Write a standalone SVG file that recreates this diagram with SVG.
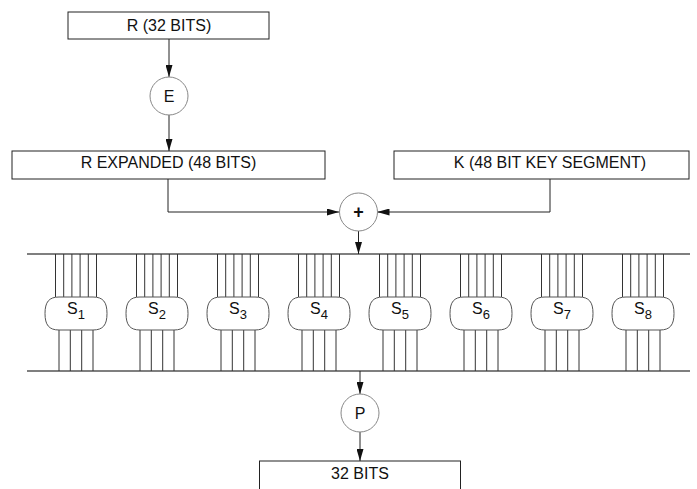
<svg xmlns="http://www.w3.org/2000/svg" xmlns:xlink="http://www.w3.org/1999/xlink" width="697" height="489" viewBox="0 0 697 489">
<style>
  .box { fill: #fff; stroke: #222; stroke-width: 1; }
  .circ { fill: #fff; stroke: #888; stroke-width: 1; }
  .sbox { fill: #fff; stroke: #555; stroke-width: 1; }
  .lbl { font-family: "Liberation Sans", Arial, sans-serif; font-size: 16px; fill: #111; text-anchor: middle; }
  .conn { fill: none; stroke: #222; stroke-width: 1; }
  .bus { stroke: #555; stroke-width: 1.3; }
  .wire { stroke: #333; stroke-width: 1; }
</style>
<defs>
  <marker id="arr" markerUnits="userSpaceOnUse" markerWidth="12" markerHeight="7" refX="12" refY="3.5" orient="auto">
    <path d="M0,0 L12,3.5 L0,7 Z" fill="#111"/>
  </marker>
  <path id="sshape" d="M -17,0 H 17 C 27,0 31,5 31,16.5 C 31,28 27,33 17,33 H -17 C -27,33 -31,28 -31,16.5 C -31,5 -27,0 -17,0 Z"/>
  <g id="wires">
    <path d="M -20.5,254 V 297 M -12.3,254 V 297 M -4.1,254 V 297 M 4.1,254 V 297 M 12.3,254 V 297 M 20.5,254 V 297 M -17,330 V 371 M -5.7,330 V 371 M 5.7,330 V 371 M 17,330 V 371"/>
  </g>
</defs>

<g id="connectors">
  <line class="bus" x1="27" y1="254" x2="690" y2="254"/>
  <line class="bus" x1="27" y1="371" x2="690" y2="371"/>
  <g class="wire">
    <use xlink:href="#wires" x="76"/>
    <use xlink:href="#wires" x="157"/>
    <use xlink:href="#wires" x="238"/>
    <use xlink:href="#wires" x="319"/>
    <use xlink:href="#wires" x="400"/>
    <use xlink:href="#wires" x="481"/>
    <use xlink:href="#wires" x="562"/>
    <use xlink:href="#wires" x="643"/>
  </g>
  <path class="conn" d="M169,39 V77" marker-end="url(#arr)"/>
  <path class="conn" d="M169,115 V151" marker-end="url(#arr)"/>
  <path class="conn" d="M168,179 V212 H339" marker-end="url(#arr)"/>
  <path class="conn" d="M550,179 V212 H377.5" marker-end="url(#arr)"/>
  <path class="conn" d="M358.5,231 V254" marker-end="url(#arr)"/>
  <path class="conn" d="M360,371 V394" marker-end="url(#arr)"/>
  <path class="conn" d="M360,432 V461" marker-end="url(#arr)"/>
</g>

<g id="r32">
  <rect class="box" x="68" y="12" width="201" height="27"/>
  <text class="lbl" x="169" y="31">R (32 BITS)</text>
</g>
<g id="E">
  <circle class="circ" cx="169" cy="96" r="19"/>
  <text class="lbl" x="169" y="102">E</text>
</g>
<g id="rexp">
  <rect class="box" x="12" y="151" width="313" height="28"/>
  <text class="lbl" x="168.5" y="167.5">R EXPANDED (48 BITS)</text>
</g>
<g id="k">
  <rect class="box" x="394" y="151" width="295" height="28"/>
  <text class="lbl" x="550" y="167.5">K (48 BIT KEY SEGMENT)</text>
</g>
<g id="xor">
  <circle class="circ" cx="358.5" cy="212" r="19"/>
  <text class="lbl" x="358.5" y="218" style="font-weight:bold;font-size:18px">+</text>
</g>
<g id="S1"><use class="sbox" xlink:href="#sshape" x="76" y="297"/><text class="lbl" x="76" y="314">S<tspan dy="5" font-size="13">1</tspan></text></g>
<g id="S2"><use class="sbox" xlink:href="#sshape" x="157" y="297"/><text class="lbl" x="157" y="314">S<tspan dy="5" font-size="13">2</tspan></text></g>
<g id="S3"><use class="sbox" xlink:href="#sshape" x="238" y="297"/><text class="lbl" x="238" y="314">S<tspan dy="5" font-size="13">3</tspan></text></g>
<g id="S4"><use class="sbox" xlink:href="#sshape" x="319" y="297"/><text class="lbl" x="319" y="314">S<tspan dy="5" font-size="13">4</tspan></text></g>
<g id="S5"><use class="sbox" xlink:href="#sshape" x="400" y="297"/><text class="lbl" x="400" y="314">S<tspan dy="5" font-size="13">5</tspan></text></g>
<g id="S6"><use class="sbox" xlink:href="#sshape" x="481" y="297"/><text class="lbl" x="481" y="314">S<tspan dy="5" font-size="13">6</tspan></text></g>
<g id="S7"><use class="sbox" xlink:href="#sshape" x="562" y="297"/><text class="lbl" x="562" y="314">S<tspan dy="5" font-size="13">7</tspan></text></g>
<g id="S8"><use class="sbox" xlink:href="#sshape" x="643" y="297"/><text class="lbl" x="643" y="314">S<tspan dy="5" font-size="13">8</tspan></text></g>
<g id="P">
  <circle class="circ" cx="360" cy="413" r="19"/>
  <text class="lbl" x="360" y="419">P</text>
</g>
<g id="out32">
  <rect class="box" x="259.5" y="461" width="201" height="40"/>
  <text class="lbl" x="360" y="478.5">32 BITS</text>
</g>
</svg>
